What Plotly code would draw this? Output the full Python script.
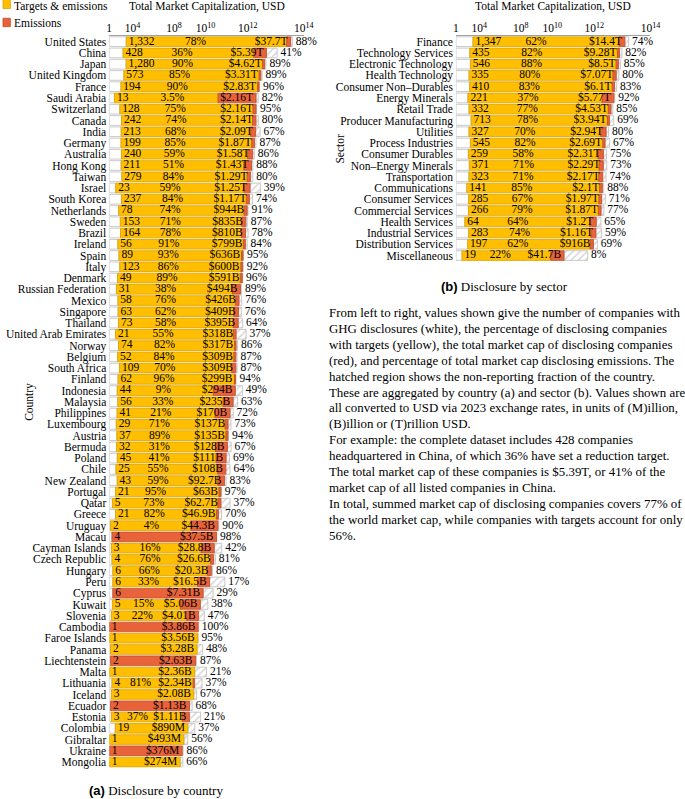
import plotly.graph_objects as go

# ---------------- data ----------------
countries = [
    "United States", "China", "Japan", "United Kingdom", "France", "Saudi Arabia",
    "Switzerland", "Canada", "India", "Germany", "Australia", "Hong Kong", "Taiwan",
    "Israel", "South Korea", "Netherlands", "Sweden", "Brazil", "Ireland", "Spain",
    "Italy", "Denmark", "Russian Federation", "Mexico", "Singapore", "Thailand",
    "United Arab Emirates", "Norway", "Belgium", "South Africa", "Finland",
    "Indonesia", "Malaysia", "Philippines", "Luxembourg", "Austria", "Bermuda",
    "Poland", "Chile", "New Zealand", "Portugal", "Qatar", "Greece", "Uruguay",
    "Macau", "Cayman Islands", "Czech Republic", "Hungary", "Peru", "Cyprus",
    "Kuwait", "Slovenia", "Cambodia", "Faroe Islands", "Panama", "Liechtenstein",
    "Malta", "Lithuania", "Iceland", "Ecuador", "Estonia", "Colombia", "Gibraltar",
    "Ukraine", "Mongolia",
]
country_companies = [
    1332, 428, 1280, 573, 194, 13, 128, 242, 213, 199, 240, 211, 279, 23, 237, 78,
    153, 164, 56, 89, 123, 49, 31, 58, 63, 73, 21, 74, 52, 109, 62, 44, 56, 41, 29,
    37, 32, 45, 25, 43, 21, 5, 21, 2, 4, 3, 4, 6, 6, 6, 5, 3, 1, 1, 2, 2, 1, 4, 3,
    2, 3, 19, 1, 1, 1,
]
country_pct_targets = [
    78, 36, 90, 85, 90, 3.5, 75, 74, 68, 85, 59, 51, 84, 59, 84, 74, 71, 78, 91, 93,
    86, 89, 38, 76, 62, 58, 55, 82, 84, 70, 96, 9, 33, 21, 71, 89, 31, 41, 55, 59,
    95, 73, 82, 4, 0, 16, 76, 66, 33, 0, 15, 22, 0, 100, 100, 0, 100, 81, 100, 0,
    37, 100, 100, 0, 100,
]
country_cap_disclosing = [
    37.7e12, 5.39e12, 4.62e12, 3.31e12, 2.83e12, 2.16e12, 2.16e12, 2.14e12, 2.09e12,
    1.87e12, 1.58e12, 1.43e12, 1.29e12, 1.25e12, 1.17e12, 944e9, 835e9, 810e9,
    799e9, 636e9, 600e9, 591e9, 494e9, 426e9, 409e9, 395e9, 318e9, 317e9, 309e9,
    309e9, 299e9, 294e9, 235e9, 170e9, 137e9, 135e9, 128e9, 111e9, 108e9, 92.7e9,
    63e9, 62.7e9, 46.9e9, 44.3e9, 37.5e9, 28.8e9, 26.6e9, 20.3e9, 16.5e9, 7.31e9,
    5.06e9, 4.01e9, 3.86e9, 3.56e9, 3.28e9, 2.63e9, 2.36e9, 2.34e9, 2.08e9, 1.13e9,
    1.11e9, 890e6, 493e6, 376e6, 274e6,
]
country_pct_cap_total = [
    88, 41, 89, 89, 96, 82, 95, 80, 67, 87, 86, 88, 80, 39, 74, 91, 87, 78, 84, 95,
    92, 96, 89, 76, 76, 64, 37, 86, 87, 87, 94, 49, 63, 72, 73, 94, 67, 69, 64, 83,
    97, 37, 70, 90, 98, 42, 81, 86, 17, 29, 38, 47, 100, 95, 48, 87, 21, 37, 67, 68,
    21, 37, 56, 86, 66,
]
# market cap of companies with targets (estimated from the yellow/red boundary);
# None where the bar is entirely one colour (0 % or 100 % with targets)
country_cap_targets = [
    27.9e12, 1.75e12, 3.88e12, 2.85e12, 2.48e12, 45.2e9, 1.64e12, 1.58e12, 1.32e12,
    1.46e12, 0.99e12, 689e9, 945e9, 706e9, 881e9, 708e9, 566e9, 549e9, 658e9, 549e9,
    518e9, 485e9, 219e9, 305e9, 253e9, 237e9, 241e9, 272e9, 252e9, 204e9, 270e9,
    25.9e9, 80.2e9, 31.8e9, 98.8e9, 109e9, 33.2e9, 35.9e9, 44.0e9, 43.6e9, 50.2e9,
    44.6e9, 37.2e9, 1.39e9, None, 5.71e9, 18.5e9, 12.4e9, 3.53e9, None, 284e6,
    739e6, None, None, None, None, None, 1.90e9, None, None, 389e6, None, None,
    None, None,
]

sectors = [
    "Finance", "Technology Services", "Electronic Technology", "Health Technology",
    "Consumer Non–Durables", "Energy Minerals", "Retail Trade",
    "Producer Manufacturing", "Utilities", "Process Industries", "Consumer Durables",
    "Non–Energy Minerals", "Transportation", "Communications", "Consumer Services",
    "Commercial Services", "Health Services", "Industrial Services",
    "Distribution Services", "Miscellaneous",
]
sector_companies = [1347, 435, 546, 335, 410, 221, 332, 713, 327, 545, 259, 371,
                    323, 141, 285, 266, 64, 283, 197, 19]
sector_pct_targets = [62, 82, 88, 80, 83, 37, 77, 78, 70, 82, 58, 71, 71, 85, 67,
                      79, 64, 74, 62, 22]
sector_cap_disclosing = [14.4e12, 9.28e12, 8.5e12, 7.07e12, 6.1e12, 5.77e12,
                         4.53e12, 3.94e12, 2.94e12, 2.69e12, 2.31e12, 2.29e12,
                         2.17e12, 2.1e12, 1.97e12, 1.87e12, 1.2e12, 1.16e12,
                         916e9, 41.7e9]
sector_pct_cap_total = [74, 82, 85, 80, 83, 92, 85, 69, 80, 67, 75, 73, 74, 88, 71,
                        77, 65, 59, 69, 8]
sector_cap_targets = [9.06e12, 7.87e12, 7.02e12, 5.35e12, 5.02e12, 2.07e12, 3.58e12,
                      3.31e12, 1.82e12, 2.19e12, 1.42e12, 1.55e12, 1.51e12, 1.64e12,
                      1.54e12, 1.46e12, 631e9, 720e9, 666e9, 8.28e9]

tick_values = [1, 1e4, 1e8, 1e10, 1e12, 1e14]
tick_labels = ["1", "10<sup>4</sup>", "10<sup>8</sup>", "10<sup>10</sup>",
               "10<sup>12</sup>", "10<sup>14</sup>"]

paragraph = [
    "From left to right, values shown give the number of companies with",
    "GHG disclosures (white), the percentage of disclosing companies",
    "with targets (yellow), the total market cap of disclosing companies",
    "(red), and percentage of total market cap disclosing emissions. The",
    "hatched region shows the non-reporting fraction of the country.",
    "These are aggregated by country (a) and sector (b). Values shown are",
    "all converted to USD via 2023 exchange rates, in units of (M)illion,",
    "(B)illion or (T)rillion USD.",
    "For example: the complete dataset includes 428 companies",
    "headquartered in China, of which 36% have set a reduction target.",
    "The total market cap of these companies is $5.39T, or 41% of the",
    "market cap of all listed companies in China.",
    "In total, summed market cap of disclosing companies covers 77% of",
    "the world market cap, while companies with targets account for only",
    "56%.",
]

# ---------------- style ----------------
W, H = 685, 799
FONT = "Liberation Serif"
FS = 11.5
YELLOW, YELLOW_LINE = "#FFBF00", "#D9A200"
RED, RED_LINE = "#E8633A", "#C24B27"
GREY_LINE = "#BDBDBD"
ROW = 11.27
TOP = 36.1


def scale(v):
    """power scale used by the x axis"""
    return v ** (1.0 / 16.0)


def fmt_cap(v):
    for div, suf in ((1e12, "T"), (1e9, "B"), (1e6, "M")):
        if v >= div:
            return f"${v / div:.3g}{suf}"
    return f"${v:.3g}"


fig = go.Figure()


def add_panel(names, counts, pct_t, cap, pct_tot, cap_t, xa, ya, px_per_u):
    n = len(names)
    u0 = scale(1)
    uc = [scale(c) for c in counts]
    ud = [scale(v) for v in cap]
    ut = []
    for c, p, d, t in zip(counts, pct_t, cap, cap_t):
        if p <= 0:
            ut.append(scale(c))
        elif p >= 100:
            ut.append(scale(d))
        else:
            ut.append(scale(t))
    utot = [scale(d / (p / 100.0)) for d, p in zip(cap, pct_tot)]

    def seg(start, end):
        return [e - s if e - s > 1e-9 else None for s, e in zip(start, end)]

    common = dict(orientation="h", width=0.86, xaxis=xa, yaxis=ya,
                  showlegend=False, hoverinfo="skip")
    fig.add_trace(go.Bar(y=names, base=[u0] * n, x=seg([u0] * n, uc),
                         marker=dict(color="white", line=dict(color=GREY_LINE, width=0.8)),
                         **common))
    fig.add_trace(go.Bar(y=names, base=ud, x=seg(ud, utot),
                         marker=dict(color="white", line=dict(color=GREY_LINE, width=0.8),
                                     pattern=dict(shape="/", fgcolor="#ADADAD",
                                                  bgcolor="white", size=5, solidity=0.3)),
                         **common))
    fig.add_trace(go.Bar(y=names, base=uc, x=seg(uc, ut),
                         marker=dict(color=YELLOW, line=dict(color=YELLOW_LINE, width=0.8)),
                         **common))
    fig.add_trace(go.Bar(y=names, base=ut, x=seg(ut, ud),
                         marker=dict(color=RED, line=dict(color=RED_LINE, width=0.8)),
                         **common))

    tf = dict(family=FONT, size=FS, color="black")
    tcommon = dict(mode="text", xaxis=xa, yaxis=ya, showlegend=False,
                   hoverinfo="skip", cliponaxis=False, textfont=tf)
    fig.add_trace(go.Scatter(x=[u + 2.5 / px_per_u for u in uc], y=names,
                             text=[f"{c:,}" for c in counts],
                             textposition="middle right", **tcommon))
    idx = [i for i in range(n) if 0 < pct_t[i] < 100]
    fig.add_trace(go.Scatter(
        x=[(uc[i] + ud[i]) / 2 - 13 / px_per_u for i in idx],
        y=[names[i] for i in idx],
        text=[f"{pct_t[i]:g}%" for i in idx],
        textposition="middle center", **tcommon))
    fig.add_trace(go.Scatter(x=[u - 3 / px_per_u for u in ud], y=names,
                             text=[fmt_cap(v) for v in cap],
                             textposition="middle left", **tcommon))
    fig.add_trace(go.Scatter(x=[u + 3.5 / px_per_u for u in utot], y=names,
                             text=[f"{p:g}%" for p in pct_tot],
                             textposition="middle right", **tcommon))
    return n


L0, L1 = 108.3, 306.7
R0, R1 = 461.7, 660.0
urange = [scale(1), scale(1e14)]
nC = add_panel(countries, country_companies, country_pct_targets,
               country_cap_disclosing, country_pct_cap_total, country_cap_targets,
               "x", "y", (L1 - L0) / (urange[1] - urange[0]))
nS = add_panel(sectors, sector_companies, sector_pct_targets, sector_cap_disclosing,
               sector_pct_cap_total, sector_cap_targets, "x2", "y2",
               (R1 - R0) / (urange[1] - urange[0]))


def xaxis_cfg(d0, d1, anchor):
    return dict(domain=[d0 / W, d1 / W], range=urange, side="top", anchor=anchor,
                tickmode="array", tickvals=[scale(t) for t in tick_values],
                ticktext=tick_labels, ticks="", showgrid=False, zeroline=False,
                showline=True, linecolor="#A0A0A0", linewidth=1,
                ticklabelstandoff=-2,
                tickfont=dict(family=FONT, size=FS, color="black"), fixedrange=True)


def yaxis_cfg(names, anchor):
    n = len(names)
    top = 1 - TOP / H
    bottom = 1 - (TOP + n * ROW) / H
    return dict(domain=[bottom, top], type="category", categoryorder="array",
                categoryarray=names, range=[n - 0.5, -0.5], anchor=anchor,
                tickmode="array", tickvals=names, ticktext=names, ticks="",
                showgrid=False, zeroline=False, showline=False, ticklabelstandoff=2,
                tickfont=dict(family=FONT, size=FS, color="black"), fixedrange=True)


annotations = []


def ann(text, x, y, size=FS, xanchor="center", yanchor="middle", font=FONT, angle=0):
    annotations.append(dict(text=text, x=x / W, y=1 - y / H, xref="paper", yref="paper",
                            showarrow=False, xanchor=xanchor, yanchor=yanchor,
                            textangle=angle,
                            font=dict(family=font, size=size, color="black")))


ann("Total Market Capitalization, USD", (L0 + L1) / 2, 6.5)
ann("Total Market Capitalization, USD", (R0 + R1) / 2, 6.5)
ann("Targets &amp; emissions", 9.5, 6.5, xanchor="left")
ann("Emissions", 9.5, 22.7, xanchor="left")
ann("Country", 27.5, TOP + nC * ROW / 2, angle=-90)
ann("Sector", 343.5, TOP + nS * ROW / 2, angle=-90)
ann('<b><span style="font-family:Liberation Sans">(a)</span></b> Disclosure by country',
    86, 791.5, size=13, xanchor="left")
ann('<b><span style="font-family:Liberation Sans">(b)</span></b> Disclosure by sector',
    444, 287, size=13, xanchor="left")
for i, line in enumerate(paragraph):
    ann(line, 330, 313 + 16 * i, size=12.9, xanchor="left")

shapes = [
    dict(type="rect", xref="paper", yref="paper", x0=0, x1=7.5 / W,
         y0=1 - 8.5 / H, y1=1 + 1 / H, fillcolor=YELLOW,
         line=dict(color=YELLOW_LINE, width=0.8)),
    dict(type="rect", xref="paper", yref="paper", x0=0, x1=7.5 / W,
         y0=1 - 26.7 / H, y1=1 - 18.3 / H, fillcolor=RED,
         line=dict(color=RED_LINE, width=0.8)),
]

fig.update_layout(
    width=W, height=H, margin=dict(l=0, r=0, t=0, b=0),
    paper_bgcolor="white", plot_bgcolor="rgba(0,0,0,0)",
    barmode="overlay", showlegend=False,
    xaxis=xaxis_cfg(L0, L1, "y"), yaxis=yaxis_cfg(countries, "x"),
    xaxis2=xaxis_cfg(R0, R1, "y2"), yaxis2=yaxis_cfg(sectors, "x2"),
    annotations=annotations, shapes=shapes,
    font=dict(family=FONT, size=FS, color="black"),
)

fig.write_html("out.html",
               config={"displayModeBar": False},
               post_script="document.body.style.margin='0';"
                           "document.body.style.overflow='hidden';")
